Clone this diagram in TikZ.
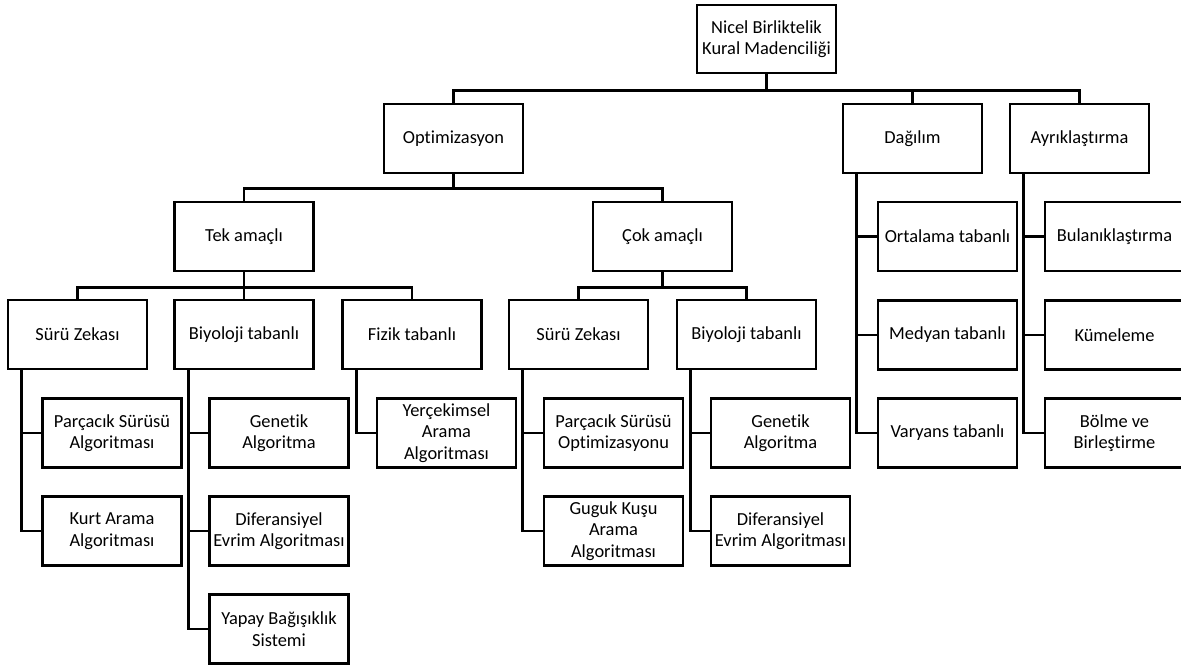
\documentclass[tikz,border=0pt]{standalone}
\usepackage{fontspec}
\setmainfont{Carlito}[Ligatures=NoCommon]
\begin{document}
\begin{tikzpicture}[x=1pt,y=-1pt,
  box/.style={draw,line width=2.8pt,minimum width=139pt,minimum height=69pt,inner sep=1pt,align=center,font=\fontsize{18.4}{21.5}\selectfont},
  link/.style={line width=2.8pt}]
\clip (0,0) rectangle (1181,666);
% level 0
\node[box,minimum height=68pt] (root) at (766.5,39) {Nicel Birliktelik\\Kural Madencili\u{g}i};
% level 1
\node[box] (opt) at (453.5,138.5) {Optimizasyon};
\node[box] (dag) at (912.5,138.5) {Da\u{g}{\i}l{\i}m};
\node[box] (ayr) at (1079.5,138.5) {Ayr{\i}kla\c{s}t{\i}rma};
% level 2
\node[box] (tek) at (244,236.5) {Tek ama\c{c}l{\i}};
\node[box] (cok) at (662.5,236.5) {\c{C}ok ama\c{c}l{\i}};
% level 3
\node[box] (sz1) at (77.5,334.5) {S\"ur\"u Zekas{\i}};
\node[box] (bt1) at (244,334.5) {Biyoloji tabanl{\i}};
\node[box] (ft1) at (412,334.5) {Fizik tabanl{\i}};
\node[box] (sz2) at (578.5,334.5) {S\"ur\"u Zekas{\i}};
\node[box] (bt2) at (746.5,334.5) {Biyoloji tabanl{\i}};
% level 4
\node[box] (pso1) at (112,433) {Par\c{c}ac{\i}k S\"ur\"us\"u\\Algoritmas{\i}};
\node[box] (kurt) at (112,531) {Kurt Arama\\Algoritmas{\i}};
\node[box] (gen1) at (279,433) {Genetik\\Algoritma};
\node[box] (dif1) at (279,531) {Diferansiyel\\Evrim Algoritmas{\i}};
\node[box] (yap) at (279,629) {Yapay Ba\u{g}{\i}\c{s}{\i}kl{\i}k\\Sistemi};
\node[box] (yer) at (446.5,433) {Yer\c{c}ekimsel\\Arama\\Algoritmas{\i}};
\node[box] (pso2) at (613.5,433) {Par\c{c}ac{\i}k S\"ur\"us\"u\\Optimizasyonu};
\node[box] (gug) at (613.5,531) {Guguk Ku\c{s}u\\Arama\\Algoritmas{\i}};
\node[box] (gen2) at (780.5,433) {Genetik\\Algoritma};
\node[box] (dif2) at (780.5,531) {Diferansiyel\\Evrim Algoritmas{\i}};
\node[box] (ort) at (947.5,236.5) {Ortalama tabanl{\i}};
\node[box] (med) at (947.5,335) {Medyan tabanl{\i}};
\node[box] (var) at (947.5,433) {Varyans tabanl{\i}};
\node[box] (bul) at (1114.5,236.5) {Bulan{\i}kla\c{s}t{\i}rma};
\node[box] (kum) at (1114.5,335) {K\"umeleme};
\node[box] (bol) at (1114.5,433) {B\"olme ve\\Birle\c{s}tirme};
% connectors: top-down bars
\foreach \c in {opt,dag,ayr}{\draw[link] (root.south) -- ++(0,16) -| (\c.north);}
\foreach \c in {tek,cok}{\draw[link] (opt.south) -- ++(0,14) -| (\c.north);}
\foreach \c in {sz1,bt1,ft1}{\draw[link] (tek.south) -- ++(0,15) -| (\c.north);}
\foreach \c in {sz2,bt2}{\draw[link] (cok.south) -- ++(0,15) -| (\c.north);}
% side trunks
\foreach \p/\c in {sz1/pso1,sz1/kurt,bt1/gen1,bt1/dif1,bt1/yap,ft1/yer,sz2/pso2,sz2/gug,bt2/gen2,bt2/dif2,dag/ort,dag/med,dag/var,ayr/bul,ayr/kum,ayr/bol}{
  \draw[link] ([xshift=15pt]\p.south west) |- (\c.west);}
\end{tikzpicture}
\end{document}
